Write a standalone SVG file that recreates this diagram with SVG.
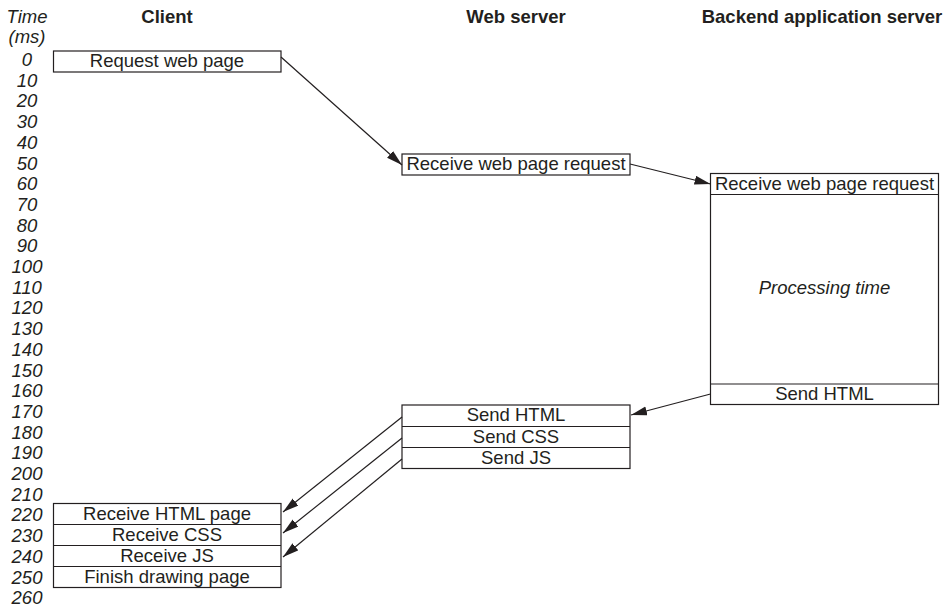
<svg xmlns="http://www.w3.org/2000/svg" width="948" height="608" viewBox="0 0 948 608">
<style>
text{font-family:"Liberation Sans",Arial,sans-serif;font-size:18.5px;fill:#231f20}
.t{font-style:italic;text-anchor:middle}
.h{font-weight:bold;text-anchor:middle}
.c{text-anchor:middle}
.box{fill:#fff;stroke:#231f20;stroke-width:1.2}
.ln{stroke:#231f20;stroke-width:1.2;fill:none}
.ar{stroke:#231f20;stroke-width:1.2;fill:none;marker-end:url(#ah)}
</style>
<defs>
<marker id="ah" markerUnits="userSpaceOnUse" markerWidth="17" markerHeight="10" refX="16" refY="4.5" orient="auto">
<path d="M0,0 L16,4.5 L0,9 z" fill="#231f20"/>
</marker>
</defs>
<rect width="948" height="608" fill="#fff"/>
<g id="headers">
<text class="t" x="27" y="23">Time</text>
<text class="t" x="27" y="43">(ms)</text>
<text class="h" x="167" y="23">Client</text>
<text class="h" x="516" y="23">Web server</text>
<text class="h" x="822" y="23">Backend application server</text>
</g>
<g id="timeline">
<text class="t" x="27" y="66">0</text>
<text class="t" x="27" y="86.7">10</text>
<text class="t" x="27" y="107.4">20</text>
<text class="t" x="27" y="128.1">30</text>
<text class="t" x="27" y="148.8">40</text>
<text class="t" x="27" y="169.5">50</text>
<text class="t" x="27" y="190.2">60</text>
<text class="t" x="27" y="210.9">70</text>
<text class="t" x="27" y="231.6">80</text>
<text class="t" x="27" y="252.3">90</text>
<text class="t" x="27" y="273">100</text>
<text class="t" x="27" y="293.7">110</text>
<text class="t" x="27" y="314.4">120</text>
<text class="t" x="27" y="335.1">130</text>
<text class="t" x="27" y="355.8">140</text>
<text class="t" x="27" y="376.5">150</text>
<text class="t" x="27" y="397.2">160</text>
<text class="t" x="27" y="417.9">170</text>
<text class="t" x="27" y="438.6">180</text>
<text class="t" x="27" y="459.3">190</text>
<text class="t" x="27" y="480">200</text>
<text class="t" x="27" y="500.7">210</text>
<text class="t" x="27" y="521.4">220</text>
<text class="t" x="27" y="542.1">230</text>
<text class="t" x="27" y="562.8">240</text>
<text class="t" x="27" y="583.5">250</text>
<text class="t" x="27" y="604.2">260</text>
</g>
<g id="client-request">
<rect class="box" x="53.5" y="51" width="227.5" height="21"/>
<text class="c" x="167" y="67">Request web page</text>
</g>
<g id="web-receive">
<rect class="box" x="402" y="154" width="228" height="21"/>
<text class="c" x="516" y="170">Receive web page request</text>
</g>
<g id="backend">
<rect class="box" x="710.5" y="173.5" width="228" height="231"/>
<line class="ln" x1="710.5" y1="194.5" x2="938.5" y2="194.5"/>
<line class="ln" x1="710.5" y1="384" x2="938.5" y2="384"/>
<text class="c" x="824.5" y="190">Receive web page request</text>
<text class="t" x="824.5" y="294">Processing time</text>
<text class="c" x="824.5" y="400">Send HTML</text>
</g>
<g id="web-send">
<rect class="box" x="402" y="405" width="228" height="63.5"/>
<line class="ln" x1="402" y1="426.5" x2="630" y2="426.5"/>
<line class="ln" x1="402" y1="447.5" x2="630" y2="447.5"/>
<text class="c" x="516" y="421">Send HTML</text>
<text class="c" x="516" y="442.5">Send CSS</text>
<text class="c" x="516" y="463.5">Send JS</text>
</g>
<g id="client-receive">
<rect class="box" x="53.5" y="503.5" width="227.5" height="84"/>
<line class="ln" x1="53.5" y1="524.5" x2="281" y2="524.5"/>
<line class="ln" x1="53.5" y1="545.5" x2="281" y2="545.5"/>
<line class="ln" x1="53.5" y1="566.5" x2="281" y2="566.5"/>
<text class="c" x="167" y="520">Receive HTML page</text>
<text class="c" x="167" y="541">Receive CSS</text>
<text class="c" x="167" y="562">Receive JS</text>
<text class="c" x="167" y="583">Finish drawing page</text>
</g>
<g id="connectors">
<line class="ar" x1="281" y1="57" x2="402" y2="165"/>
<line class="ar" x1="630" y1="164" x2="710.5" y2="184"/>
<line class="ar" x1="710.5" y1="394" x2="631" y2="415"/>
<line class="ar" x1="402" y1="417" x2="283" y2="512"/>
<line class="ar" x1="402" y1="438" x2="283" y2="533"/>
<line class="ar" x1="402" y1="459" x2="283" y2="557"/>
</g>
</svg>
